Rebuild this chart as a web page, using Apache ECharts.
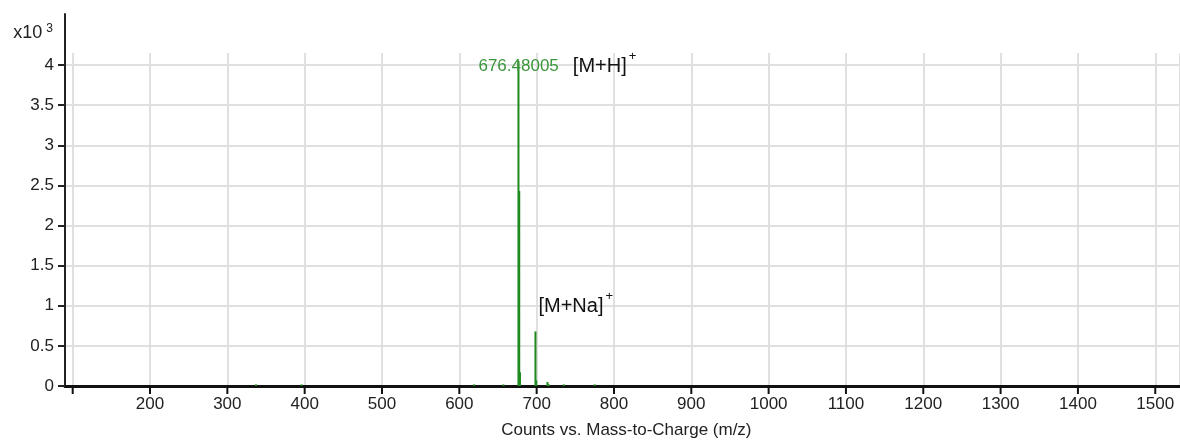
<!DOCTYPE html>
<html>
<head>
<meta charset="utf-8">
<script src="https://cdn.jsdelivr.net/npm/echarts@6/dist/echarts.min.js"></script>
<style>
  html, body { margin: 0; padding: 0; background: #fff; }
  #chart { width: 1180px; height: 441px; }
</style>
</head>
<body>
<div id="chart"></div>
<script>
// peaks (m/z, counts in x10^3)
const mzValues = [337, 396, 619, 657, 676.48, 677.48, 678.48, 698.46, 699.46, 714, 716, 735, 775];
const countValues = [0.02, 0.02, 0.02, 0.02, 4.05, 2.43, 0.17, 0.68, 0.07, 0.05, 0.02, 0.02, 0.02];
const xTicks = [100, 200, 300, 400, 500, 600, 700, 800, 900, 1000, 1100, 1200, 1300, 1400, 1500];
const yTicks = [0, 0.5, 1, 1.5, 2, 2.5, 3, 3.5, 4];

const font = "Liberation Sans";
const green = "#1e8a1e";

let chart = echarts.init(document.getElementById("chart"), null, { renderer: "canvas" });

// annotation labels keyed by m/z
const peakLabels = {
  676.48: {
    show: true,
    position: [-39, 5],
    align: "left",
    verticalAlign: "middle",
    formatter: "{g|676.48005}{b|[M+H]}{s|+}",
    rich: {
      g: { color: "#3a963a", fontSize: 17, fontFamily: font },
      b: { color: "#111", fontSize: 20, fontFamily: font, padding: [0, 0, 0, 14] },
      s: { color: "#111", fontSize: 13, fontFamily: font, padding: [0, 0, 20, 2] },
    },
  },
  698.46: {
    show: true,
    position: [4, -25],
    align: "left",
    verticalAlign: "middle",
    formatter: "{b|[M+Na]}{s|+}",
    rich: {
      b: { color: "#111", fontSize: 20, fontFamily: font },
      s: { color: "#111", fontSize: 13, fontFamily: font, padding: [0, 0, 20, 2] },
    },
  },
};

let seriesData = mzValues.map((mz, i) => {
  let item = { value: [mz, countValues[i]] };
  if (peakLabels[mz]) item.label = peakLabels[mz];
  return item;
});

// an axis with nothing drawn, fresh objects every time
function bareAxis(extra) {
  return Object.assign(
    {
      type: "value",
      axisLine: { show: false },
      axisTick: { show: false },
      axisLabel: { show: false },
      splitLine: { show: false },
    },
    extra
  );
}

let option = {
  animation: false,
  grid: [
    // outer frame
    { left: 65, right: 0, top: 14, bottom: 55, outerBoundsMode: "none" },
    // y scale, horizontal grid, bottom axis line
    { left: 65, right: 0, top: 53, bottom: 55, outerBoundsMode: "none" },
    // m/z scale starts one tick in from the frame
    { left: 72.7, right: 0, top: 53, bottom: 55, outerBoundsMode: "none" },
  ],
  xAxis: [
    bareAxis({
      gridIndex: 0,
      position: "top",
      min: 0,
      max: 1,
      axisLine: { show: true, lineStyle: { color: "#222", width: 2 } },
    }),
    bareAxis({
      gridIndex: 1,
      min: 0,
      max: 1,
      axisLine: { show: true, onZero: false, lineStyle: { color: "#111", width: 3 } },
    }),
    {
      gridIndex: 2,
      type: "value",
      min: 100,
      max: 1532,
      interval: 100,
      name: "Counts vs. Mass-to-Charge (m/z)",
      nameLocation: "middle",
      nameGap: 36,
      nameTextStyle: { color: "#222", fontSize: 17, fontFamily: font },
      axisLine: { show: false, onZero: false },
      axisTick: { show: false },
      axisLabel: {
        showMinLabel: false,
        showMaxLabel: false,
        margin: 10,
        color: "#222",
        fontSize: 17,
        fontFamily: font,
        formatter: (v) => String(v),
      },
      splitLine: { show: true, lineStyle: { color: "#e0e0e0", width: 2 } },
    },
  ],
  yAxis: [
    bareAxis({
      gridIndex: 0,
      min: 0,
      max: 1,
      axisLine: { show: true, lineStyle: { color: "#222", width: 2 } },
    }),
    {
      gridIndex: 1,
      type: "value",
      min: 0,
      max: 4.15,
      name: "x10{s|3}",
      nameLocation: "end",
      nameGap: 9,
      nameTextStyle: {
        color: "#222",
        fontSize: 18,
        fontFamily: font,
        align: "right",
        padding: [0, 12, 0, 0],
        rich: { s: { fontSize: 12, fontFamily: font, color: "#222", padding: [0, 0, 9, 4] } },
      },
      axisLine: { show: true, lineStyle: { color: "#222", width: 2 } },
      axisTick: {
        show: true,
        customValues: yTicks,
        length: 7,
        lineStyle: { color: "#222", width: 2 },
      },
      axisLabel: {
        customValues: yTicks,
        margin: 11,
        color: "#222",
        fontSize: 17,
        fontFamily: font,
      },
      splitLine: { show: true, lineStyle: { color: "#e0e0e0", width: 2 } },
    },
    bareAxis({ gridIndex: 2, min: 0, max: 4.15 }),
  ],
  series: [
    {
      type: "bar",
      xAxisIndex: 2,
      yAxisIndex: 2,
      barWidth: 2,
      itemStyle: { color: green },
      data: seriesData,
    },
  ],
};

chart.setOption(option);

// tick marks under the m/z axis, placed through the axis scale
let tickMarks = xTicks.map((v) => {
  let p = chart.convertToPixel({ xAxisIndex: 2, yAxisIndex: 2 }, [v, 0]);
  return {
    type: "line",
    z: 100,
    shape: { x1: p[0], y1: p[1], x2: p[0], y2: p[1] + 8 },
    style: { stroke: "#111", lineWidth: 2 },
  };
});
chart.setOption({ graphic: tickMarks });
</script>
</body>
</html>
